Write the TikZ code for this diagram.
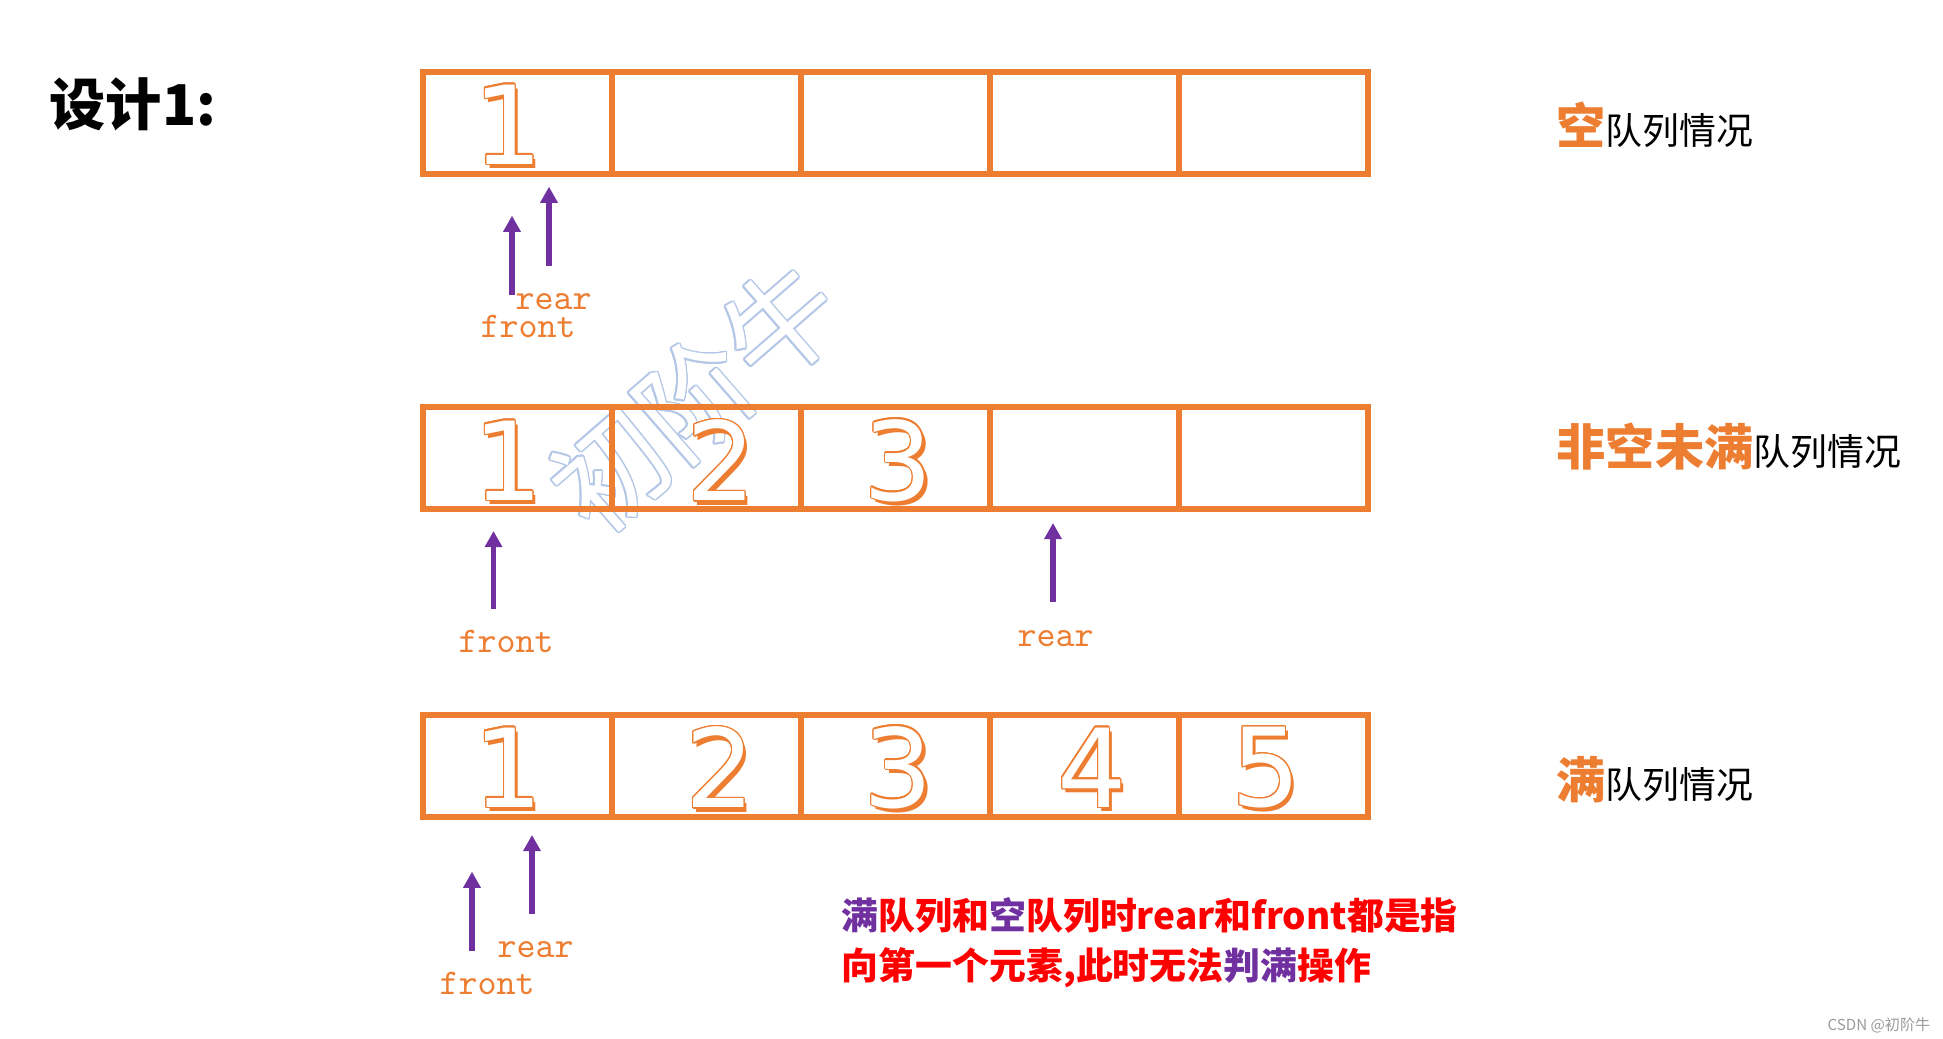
\documentclass[tikz,border=0pt]{standalone}
\usepackage{fontspec}
\usepackage[copies]{contour}
\usetikzlibrary{arrows.meta}
\newfontfamily\cjk{Noto Sans CJK SC}
\newfontfamily\digitfont{DejaVu Sans}
\definecolor{qorange}{HTML}{ED7D31}
\definecolor{qpurple}{HTML}{7030A0}
\definecolor{qred}{HTML}{FF0000}
\definecolor{wmblue}{HTML}{B4C7E7}
\definecolor{csdngray}{HTML}{9A9A9A}
\contourlength{0.35pt}
\tikzset{
  cell/.style={draw=qorange, line width=0.06cm, minimum width=1.89cm,
    minimum height=1.02cm, inner sep=0},
  digit/.style={text=white, inner sep=0, font=\digitfont\fontsize{31}{31}\selectfont},
  digitshadow/.style={text=qorange, inner sep=0, font=\digitfont\fontsize{31}{31}\selectfont},
  ptr/.style={draw=qpurple, line width=1.45pt, -{Triangle[length=4.6pt,width=4.8pt]}},
  ptrlabel/.style={text=qorange, inner sep=0, anchor=base west,
    font=\ttfamily\fontsize{10.3}{11}\selectfont},
  tag/.style={inner sep=0, anchor=base west, font=\cjk\fontsize{10.5}{12}\selectfont},
  note/.style={text=qred, inner sep=0, anchor=base west,
    font=\cjk\bfseries\fontsize{10.5}{14}\selectfont}
}
\begin{document}
\begin{tikzpicture}
  % helper grid: comment for final drawing
  % \draw[help lines,step=.5] (0,0) grid (19.43,10.38);
  \useasboundingbox (0,0) rectangle (19.43,10.38);
  % watermark
  \node[rotate=41, text=white, font=\cjk\fontsize{32}{32}\selectfont] (wm) at (6.96,6.40)
    {\contourlength{0.45pt}\contour{wmblue}{初阶牛}};
  % the three queues
  \foreach \r/\y in {1/9.15,2/5.80,3/2.725}
    \foreach \c in {1,...,5}
      \node[cell] (r\r-\c) at ({4.23+1.89*(\c-0.5)},\y) {};
  % stored elements
  \foreach \d/\x in {1/5.08}{
    \node[digitshadow] (s1-\d) at (\x+0.035,9.13-0.04) {\d};
    \node[digit] (d1-\d) at (\x,9.13) {\contour{qorange}{\d}};
  }
  \foreach \d/\x in {1/5.08,2/7.21,3/8.985}{
    \node[digitshadow] (s2-\d) at (\x+0.035,5.77-0.04) {\d};
    \node[digit] (d2-\d) at (\x,5.77) {\contour{qorange}{\d}};
  }
  \foreach \d/\x in {1/5.08,2/7.20,3/8.985,4/10.92,5/12.66}{
    \node[digitshadow] (s3-\d) at (\x+0.035,2.70-0.04) {\d};
    \node[digit] (d3-\d) at (\x,2.70) {\contour{qorange}{\d}};
  }
  % pointers
  \coordinate (front1) at (5.12,7.43);  \coordinate (front1h) at (5.12,8.223);
  \coordinate (rear1)  at (5.49,7.72);  \coordinate (rear1h)  at (5.49,8.513);
  \coordinate (front2) at (4.935,4.29); \coordinate (front2h) at (4.935,5.07);
  \coordinate (rear2)  at (10.53,4.36); \coordinate (rear2h)  at (10.53,5.15);
  \coordinate (front3) at (4.72,0.873); \coordinate (front3h) at (4.72,1.663);
  \coordinate (rear3)  at (5.32,1.24);  \coordinate (rear3h)  at (5.32,2.03);
  \foreach \p in {front1,rear1,front2,rear2,front3,rear3}
    \draw[ptr] (\p) -- (\p h);
  \node[ptrlabel] (lrear1)  at (5.15,7.29)  {rear};
  \node[ptrlabel] (lfront1) at (4.80,7.01)  {front};
  \node[ptrlabel] (lfront2) at (4.58,3.854) {front};
  \node[ptrlabel] (lrear2)  at (10.17,3.92) {rear};
  \node[ptrlabel] (lrear3)  at (4.97,0.803) {rear};
  \node[ptrlabel] (lfront3) at (4.39,0.44)  {front};
  % titles
  \node[inner sep=0, anchor=base west, font=\cjk\bfseries\fontsize{16}{20}\selectfont]
    (title) at (0.49,9.13) {设计1:};
  \node[tag] (tag1) at (15.56,8.94)
    {{\bfseries\color{qorange}\fontsize{14}{16}\selectfont 空}队列情况};
  \node[tag] (tag2) at (15.56,5.73)
    {{\bfseries\color{qorange}\fontsize{14}{16}\selectfont 非空未满}队列情况};
  \node[tag] (tag3) at (15.56,2.40)
    {{\bfseries\color{qorange}\fontsize{14}{16}\selectfont 满}队列情况};
  \node[note] (note1) at (8.41,1.09)
    {{\color{qpurple}满}队列和{\color{qpurple}空}队列时rear和front都是指};
  \node[note] (note2) at (8.41,0.59)
    {向第一个元素,此时无法{\color{qpurple}判满}操作};
  \node[inner sep=0, anchor=west, text=csdngray, font=\cjk\fontsize{4.3}{5}\selectfont]
    (csdn) at (18.27,0.13) {CSDN @初阶牛};
\end{tikzpicture}
\end{document}
